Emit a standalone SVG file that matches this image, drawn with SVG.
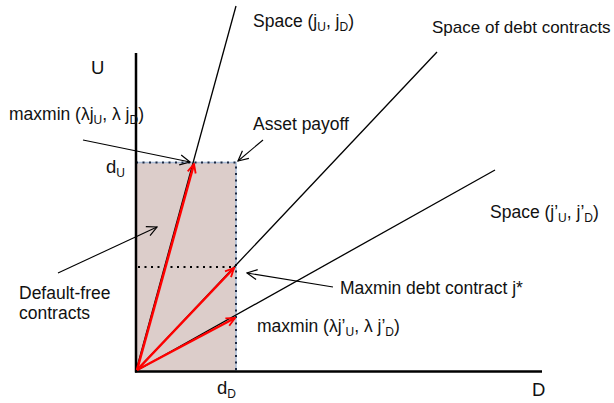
<svg xmlns="http://www.w3.org/2000/svg" width="614" height="403" viewBox="0 0 614 403">
<defs>
<style>
text{font-family:"Liberation Sans",Arial,sans-serif;font-size:17.5px;fill:#111}
.big{font-size:18.5px}
.sub{font-size:12px}
.ln{stroke:#000;stroke-width:1.3;fill:none}
.ann{stroke:#000;stroke-width:1.1;fill:none;marker-end:url(#ah)}
.red{stroke:#f00;stroke-width:2.5;fill:none;marker-end:url(#rh)}
.ax{stroke:#000;stroke-width:2.5;fill:none}
</style>
<marker id="ah" viewBox="0 0 12 12" refX="11" refY="6" markerWidth="12" markerHeight="12" markerUnits="userSpaceOnUse" orient="auto">
<path d="M1,1 L11,6 L1,11" fill="none" stroke="#000" stroke-width="1.2"/>
</marker>
<marker id="rh" viewBox="0 0 12 12" refX="10.5" refY="6" markerWidth="11" markerHeight="11" markerUnits="userSpaceOnUse" orient="auto">
<path d="M1,1.5 L10.5,6 L1,10.5" fill="none" stroke="#f00" stroke-width="2"/>
</marker>
</defs>
<rect width="614" height="403" fill="#fff"/>
<g id="region">
<rect x="136" y="162.5" width="100" height="209" fill="#dccdca"/>
<path d="M136,162.5 H236 V371" stroke="#a9bcd6" stroke-width="1.5" fill="none"/>
<path d="M136,162.5 H236 V371" stroke="#1c2840" stroke-width="2" stroke-dasharray="2,4.5" fill="none"/>
<line x1="136" y1="162.5" x2="136" y2="371" stroke="#1c2840" stroke-width="2"/>
<line x1="138" y1="267" x2="236" y2="267" stroke="#000" stroke-width="2" stroke-dasharray="2,4.5"/>
</g>
<g id="axes">
<line class="ax" x1="136" y1="53" x2="136" y2="372.5"/>
<line class="ax" x1="135" y1="371.5" x2="542" y2="371.5"/>
</g>
<g id="connectors">
<line class="ln" x1="136" y1="371" x2="236" y2="6"/>
<line class="ln" x1="136" y1="371" x2="437" y2="52"/>
<line class="ln" x1="136" y1="371" x2="495" y2="170"/>
<line class="red" x1="137" y1="370" x2="194" y2="164"/>
<line class="red" x1="137" y1="370" x2="234" y2="268"/>
<line class="red" x1="137" y1="370" x2="235" y2="318"/>
<line class="ann" x1="83" y1="140" x2="190" y2="162"/>
<line class="ann" x1="263" y1="140" x2="238" y2="161"/>
<line class="ann" x1="58" y1="273" x2="157" y2="227"/>
<line class="ann" x1="333" y1="287" x2="247" y2="273"/>
</g>
<g id="labels">
<text class="big" x="91" y="74">U</text>
<text class="big" x="532" y="396">D</text>
<text class="big" x="106" y="173">d<tspan class="sub" dy="4">U</tspan></text>
<text class="big" x="217" y="394">d<tspan class="sub" dy="4">D</tspan></text>
<text x="253" y="27">Space (j<tspan class="sub" dy="4">U</tspan><tspan dy="-4">, j</tspan><tspan class="sub" dy="4">D</tspan><tspan dy="-4">)</tspan></text>
<text x="432" y="33" style="font-size:17px">Space of debt contracts</text>
<text x="490" y="218">Space (j’<tspan class="sub" dy="4">U</tspan><tspan dy="-4">, j’</tspan><tspan class="sub" dy="4">D</tspan><tspan dy="-4">)</tspan></text>
<text x="9" y="120">maxmin (λj<tspan class="sub" dy="4">U</tspan><tspan dy="-4">, λ j</tspan><tspan class="sub" dy="4">D</tspan><tspan dy="-4">)</tspan></text>
<text x="253" y="130">Asset payoff</text>
<text x="19" y="299">Default-free</text>
<text x="19" y="319">contracts</text>
<text x="340" y="294">Maxmin debt contract j*</text>
<text x="257" y="332">maxmin (λj’<tspan class="sub" dy="4">U</tspan><tspan dy="-4">, λ j’</tspan><tspan class="sub" dy="4">D</tspan><tspan dy="-4">)</tspan></text>
</g>
</svg>
